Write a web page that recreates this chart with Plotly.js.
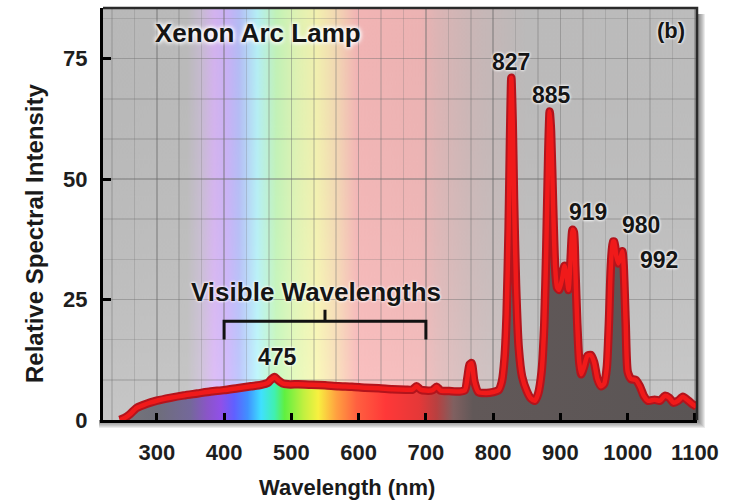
<!DOCTYPE html>
<html>
<head>
<meta charset="utf-8">
<script src="https://cdn.plot.ly/plotly-3.0.1.min.js"></script>
<style>html,body{margin:0;padding:0;background:#fff;}#chart{width:730px;height:501px;}</style>
</head>
<body>
<div id="chart"></div>
<script>
// ---- data ----
const wavelength = [245, 252, 260, 270, 280, 290, 300, 320, 340, 360, 380, 400, 420, 440, 455, 465, 470, 475, 480, 487, 495, 510, 530, 550, 570, 590, 610, 630, 650, 670, 680, 686, 692, 700, 710, 716, 722, 735, 750, 758, 762, 765, 768, 772, 778, 790, 800, 808, 813, 817, 820, 823, 825, 827, 829, 831, 834, 838, 843, 850, 856, 862, 867, 872, 876, 879, 882, 884, 886, 889, 892, 895, 898, 902, 906, 909, 912, 915, 918, 920, 922, 925, 928, 931, 935, 940, 945, 950, 955, 960, 965, 969, 972, 975, 978, 980, 983, 986, 989, 992, 994, 997, 1000, 1005, 1012, 1018, 1024, 1030, 1040, 1048, 1055, 1062, 1068, 1075, 1082, 1090, 1097, 1102];
const intensity = [0, 0.4, 1.2, 2.5, 3.1, 3.6, 4.0, 4.6, 5.1, 5.5, 5.9, 6.2, 6.6, 7.0, 7.3, 7.7, 8.4, 8.9, 8.3, 7.6, 7.4, 7.4, 7.3, 7.2, 7.0, 6.9, 6.7, 6.6, 6.4, 6.3, 6.3, 7.0, 6.3, 6.1, 6.2, 6.9, 6.1, 6.0, 5.9, 6.2, 9.0, 11.5, 11.8, 8.0, 5.8, 5.6, 5.8, 6.2, 8.0, 13, 22, 40, 58, 71, 62, 46, 28, 15, 9, 6, 4.5, 4, 5.5, 10, 20, 36, 56, 64, 60, 45, 32, 27.5, 27, 29, 32, 30, 27, 33, 39.5, 39, 32, 20, 12, 9.5, 11, 13.3, 13.5, 12, 8.5, 7, 7.5, 11, 20, 32, 37, 37, 34, 32.5, 33.5, 35, 32, 20, 10, 8.5, 8.3, 7, 5, 4, 4.2, 4, 5, 4.6, 3.6, 4, 4.8, 4, 3.2, 2.8];
const xTickVals = [300, 400, 500, 600, 700, 800, 900, 1000, 1100];
const yTickVals = [0, 25, 50, 75];
const peakNames = ['827', '885', '919', '980', '992', '475'];
const peakLabelX = [826, 886, 941, 1020, 1047, 479];
const peakLabelY = [74.3, 67.4, 43.2, 40.5, 33.2, 13.1];
const bracketStart = 400, bracketEnd = 700;

// ---- styling ----
const X0 = 220, X1 = 1103, Y0 = 0, Y1 = 85.5;
const FONT = 'Liberation Sans, Arial, Helvetica, sans-serif';

// background spectrum image (pastel over grey)
const bgStops = [[220,'#c0c0c0'],[345,'#c2c2c2'],[365,'#cec2d8'],[385,'#dcbaf8'],[405,'#d0b8ff'],[422,'#bcc4ff'],[449,'#bcf8ff'],[478,'#cafcbe'],[508,'#e8fcba'],[538,'#fcfab6'],[567,'#fce0ba'],[597,'#fcbcbc'],[692,'#f6baba'],[716,'#e6bcbc'],[741,'#dcbdbd'],[770,'#d2bebe'],[820,'#c8c0c0'],[850,'#c3c2c2'],[1103,'#c4c4c4']];
const cv = document.createElement('canvas');
cv.width = Math.round(X1 - X0); cv.height = 200;
const ctx = cv.getContext('2d');
const g = ctx.createLinearGradient(0, 0, cv.width, 0);
bgStops.forEach(s => g.addColorStop((s[0] - X0) / (X1 - X0), s[1]));
ctx.fillStyle = g; ctx.fillRect(0, 0, cv.width, cv.height);
const gv = ctx.createLinearGradient(0, 0, 0, cv.height);
gv.addColorStop(0, 'rgba(0,0,0,0.04)');
gv.addColorStop(1, 'rgba(255,255,255,0.10)');
ctx.fillStyle = gv; ctx.fillRect(0, 0, cv.width, cv.height);
const bgURL = cv.toDataURL('image/png');

// under-curve vivid spectrum
const fillStops = [[220,'#7a7a7c'],[300,'#6e6e7a'],[350,'#74689a'],[375,'#8a55c8'],[395,'#9050e8'],[415,'#6060ff'],[435,'#4090ff'],[455,'#40e0ff'],[475,'#40f0b0'],[490,'#60f040'],[518,'#c0f040'],[540,'#f8f040'],[567,'#ffa040'],[597,'#ff6040'],[640,'#ff3838'],[690,'#e53838'],[716,'#b84040'],[741,'#806060'],[770,'#615858'],[1103,'#5a5555']];
const fillScale = fillStops.map(s => [(s[0] - X0) / (X1 - X0), s[1]]);

const traces = [
  {x: wavelength, y: intensity, type: 'scatter', mode: 'lines', fill: 'tozeroy',
   line: {width: 0, shape: 'spline', smoothing: 0.6},
   fillgradient: {type: 'horizontal', colorscale: fillScale, start: X0, stop: X1},
   hoverinfo: 'skip', showlegend: false},
  {x: wavelength, y: intensity, type: 'scatter', mode: 'lines',
   line: {color: '#b3141c', width: 8.5, shape: 'spline', smoothing: 0.6}, showlegend: false},
  {x: wavelength, y: intensity, type: 'scatter', mode: 'lines',
   line: {color: '#f01a1a', width: 4.5, shape: 'spline', smoothing: 0.6}, showlegend: false}
];

const L = 103, R = 33, T = 8, B = 81;
const PW = 730 - L - R, PH = 501 - T - B;
const shapes = [];
// drop shadow (strips outside the plot area only)
for (let i = 1; i <= 8; i++) {
  shapes.push({type: 'rect', xref: 'paper', yref: 'paper', layer: 'below',
    x0: 1, x1: 1 + i / PW, y0: -i / PH, y1: 1 - 6 / PH,
    fillcolor: 'rgba(30,30,30,0.09)', line: {width: 0}});
  shapes.push({type: 'rect', xref: 'paper', yref: 'paper', layer: 'below',
    x0: -4 / PW, x1: 1, y0: -i / PH, y1: 0,
    fillcolor: 'rgba(30,30,30,0.09)', line: {width: 0}});
}
// top/right frame
shapes.push({type: 'path', xref: 'paper', yref: 'paper', layer: 'above',
  path: 'M0,1 L1,1 L1,0', line: {color: '#2a2a2a', width: 2.5}});
// visible bracket
const yb = 20.5, ybEnd = 16.7, ybMid = 22.9, xm = (bracketStart + bracketEnd) / 2;
shapes.push({type: 'path', xref: 'x', yref: 'y', layer: 'above',
  path: `M${bracketStart},${ybEnd} L${bracketStart},${yb} L${bracketEnd},${yb} L${bracketEnd},${ybEnd} M${xm},${yb} L${xm},${ybMid}`,
  line: {color: '#111', width: 3}});

const glow = '0 0 3px #fff, 0 0 3px #fff';
const annotations = peakNames.map((t, i) => ({
  x: peakLabelX[i], y: peakLabelY[i], xref: 'x', yref: 'y', text: '<b>' + t + '</b>', showarrow: false,
  font: {family: FONT, size: 23, color: '#151515', shadow: glow}, xanchor: 'center', yanchor: 'middle'
}));
annotations.push({x: 537, y: 26.6, xref: 'x', yref: 'y', text: '<b>Visible Wavelengths</b>', showarrow: false,
  font: {family: FONT, size: 26, color: '#151515', shadow: glow}});
annotations.push({x: 451, y: 80.3, xref: 'x', yref: 'y', text: '<b>Xenon Arc Lamp</b>', showarrow: false,
  font: {family: FONT, size: 26, color: '#151515', shadow: '0 0 4px #fff, 0 0 4px #fff, 0 0 6px #fff'}});
annotations.push({x: 1064, y: 80.8, xref: 'x', yref: 'y', text: '<b>(b)</b>', showarrow: false,
  font: {family: FONT, size: 22, color: '#151515', shadow: glow}});
annotations.push({x: (347 - L) / PW, y: 0, yshift: -67, xref: 'paper', yref: 'paper', text: '<b>Wavelength (nm)</b>',
  showarrow: false, xanchor: 'center', yanchor: 'middle', font: {family: FONT, size: 22, color: '#1a1a1a'}});
annotations.push({x: 0, xshift: -69, y: (PH - (234 - T)) / PH, xref: 'paper', yref: 'paper', text: '<b>Relative Spectral Intensity</b>',
  showarrow: false, textangle: -90, xanchor: 'center', yanchor: 'middle', font: {family: FONT, size: 24, color: '#1a1a1a'}});

const layout = {
  width: 730, height: 501,
  margin: {l: L, r: R, t: T, b: B, pad: 0},
  paper_bgcolor: '#ffffff', plot_bgcolor: 'rgba(0,0,0,0)',
  showlegend: false,
  xaxis: {range: [X0, X1], tickvals: xTickVals, ticktext: xTickVals.map(String),
    ticks: 'inside', ticklen: 7, tickwidth: 3, tickcolor: '#000',
    showline: true, linecolor: '#000', linewidth: 3, zeroline: false,
    showgrid: true, gridcolor: 'rgba(110,110,110,0.25)', gridwidth: 1.5,
    minor: {tick0: 300, dtick: 100 / 3, showgrid: true, gridcolor: 'rgba(110,110,110,0.25)', gridwidth: 1.5, ticks: ''},
    ticklabelstandoff: 11,
    tickfont: {family: FONT, size: 22, color: '#1e1e1e', weight: 'bold'}, fixedrange: true},
  yaxis: {range: [Y0, Y1], tickvals: yTickVals, ticktext: yTickVals.map(String),
    ticks: 'inside', ticklen: 8, tickwidth: 3, tickcolor: '#000',
    showline: true, linecolor: '#000', linewidth: 3, zeroline: false,
    showgrid: true, gridcolor: 'rgba(110,110,110,0.25)', gridwidth: 1.5,
    minor: {tick0: 0, dtick: 25 / 3, showgrid: true, gridcolor: 'rgba(110,110,110,0.25)', gridwidth: 1.5, ticks: ''},
    ticklabelstandoff: 8,
    tickfont: {family: FONT, size: 22, color: '#1e1e1e', weight: 'bold'}, fixedrange: true},
  images: [{source: bgURL, xref: 'x', yref: 'y', x: X0, y: Y1, sizex: X1 - X0, sizey: Y1 - Y0,
    sizing: 'stretch', layer: 'below', xanchor: 'left', yanchor: 'top'}],
  shapes: shapes,
  annotations: annotations
};

Plotly.newPlot('chart', traces, layout, {displayModeBar: false, staticPlot: true});
</script>
</body>
</html>
